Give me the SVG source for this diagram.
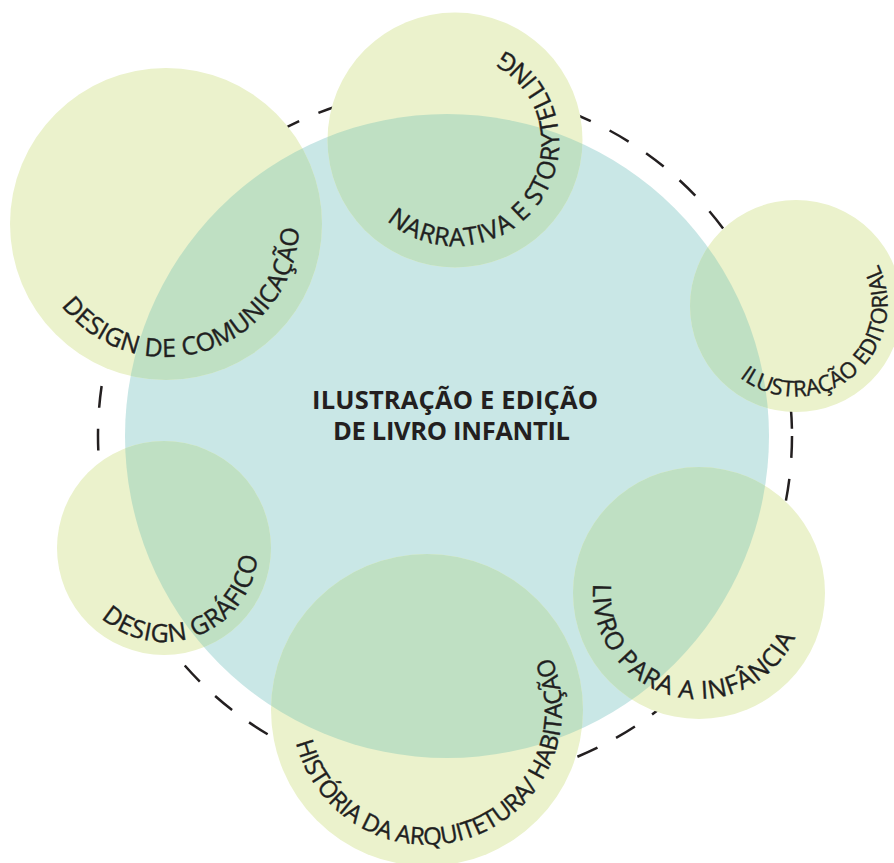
<svg xmlns="http://www.w3.org/2000/svg" width="894" height="863" viewBox="0 0 894 863">
<style>
.lbl{font-family:"Open Sans","Liberation Sans",sans-serif;font-size:25px;fill:#1f1f1f;stroke:#1f1f1f;stroke-width:0.4px;}
.title{font-family:"Open Sans","Liberation Sans",sans-serif;font-size:25.5px;font-weight:700;fill:#231f20;text-anchor:middle;}
.green{fill:#ebf2cc;}
.ov{fill:#bfe0c3;}
.blue{fill:#c9e7e6;}
</style>
<defs>
<clipPath id="clipBlue"><circle cx="447" cy="436" r="322"/></clipPath>
<path id="p1" d="M61.2,305.9 A133,133 0 0 0 298.9,228.6"/>
<path id="p2" d="M386.8,220.5 A104,104 0 1 0 503.8,50.2"/>
<path id="p3" d="M739.5,377.6 A92,92 0 0 0 879,266"/>
<path id="p4" d="M101.1,617.9 A94,94 0 0 0 257.6,556.2"/>
<path id="p5" d="M593.4,583.8 A106,106 0 0 0 795.1,637.8"/>
<path id="p6" d="M296,742.7 A135,135 0 1 0 551.3,657.3"/>
</defs>
<rect width="894" height="863" fill="#fff"/>
<g id="connectors">
<circle cx="445" cy="436" r="347" fill="none" stroke="#231f20" stroke-width="2.5" stroke-dasharray="22 21"/>
</g>
<g id="center">
<circle class="blue" cx="447" cy="436" r="322"/>
<text class="title" x="455" y="409" textLength="286">ILUSTRAÇÃO E EDIÇÃO</text>
<text class="title" x="451.5" y="440" textLength="237">DE LIVRO INFANTIL</text>
</g>
<g id="design-comunicacao">
<circle class="green" cx="166" cy="224" r="156"/>
<circle class="ov" cx="166" cy="224" r="156" clip-path="url(#clipBlue)"/>
<text class="lbl"><textPath href="#p1" textLength="325">DESIGN DE COMUNICAÇÃO</textPath></text>
</g>
<g id="narrativa">
<circle class="green" cx="455" cy="140" r="127.5"/>
<circle class="ov" cx="455" cy="140" r="127.5" clip-path="url(#clipBlue)"/>
<text class="lbl"><textPath href="#p2" textLength="350">NARRATIVA E STORYTELLING</textPath></text>
</g>
<g id="ilustracao-editorial">
<circle class="green" cx="796" cy="306" r="106"/>
<circle class="ov" cx="796" cy="306" r="106" clip-path="url(#clipBlue)"/>
<text class="lbl" style="font-size:22px"><textPath href="#p3" textLength="246">ILUSTRAÇÃO EDITORIAL</textPath></text>
</g>
<g id="design-grafico">
<circle class="green" cx="164" cy="548" r="107"/>
<circle class="ov" cx="164" cy="548" r="107" clip-path="url(#clipBlue)"/>
<text class="lbl"><textPath href="#p4" textLength="208">DESIGN GRÁFICO</textPath></text>
</g>
<g id="livro-infancia">
<circle class="green" cx="699" cy="593" r="126"/>
<circle class="ov" cx="699" cy="593" r="126" clip-path="url(#clipBlue)"/>
<text class="lbl"><textPath href="#p5" textLength="296">LIVRO PARA A INFÂNCIA</textPath></text>
</g>
<g id="historia-arquitetura">
<circle class="green" cx="427" cy="710" r="156"/>
<circle class="ov" cx="427" cy="710" r="156" clip-path="url(#clipBlue)"/>
<text class="lbl" style="font-size:24px"><textPath href="#p6" textLength="445">HISTÓRIA DA ARQUITETURA/ HABITAÇÃO</textPath></text>
</g>
</svg>
